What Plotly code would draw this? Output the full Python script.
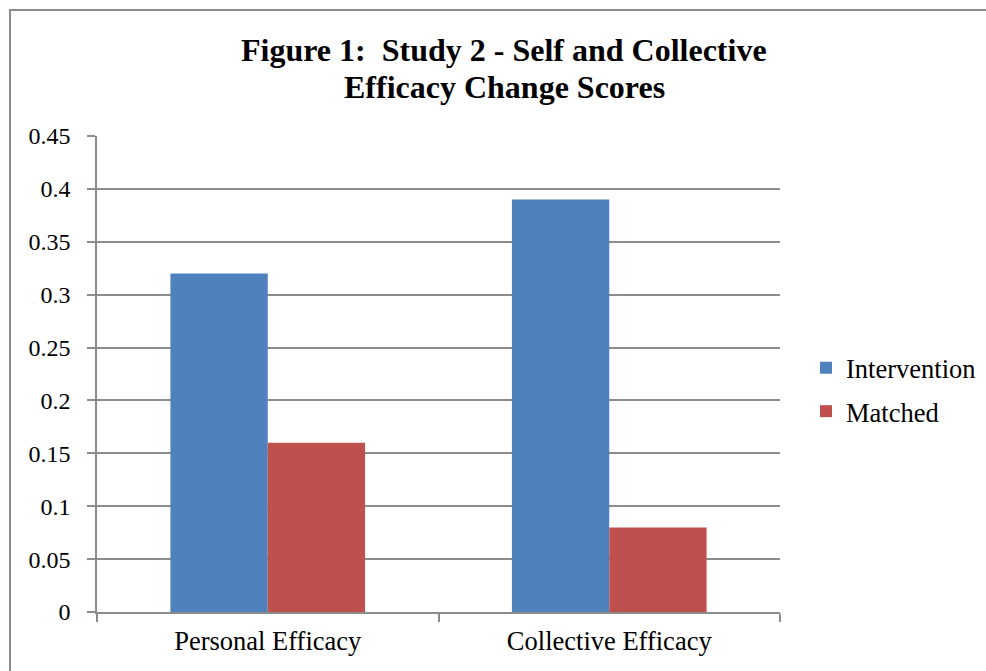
import plotly.graph_objects as go

categories = ["Personal Efficacy", "Collective Efficacy"]
intervention = [0.32, 0.39]
matched = [0.16, 0.08]
y_ticks = [0, 0.05, 0.1, 0.15, 0.2, 0.25, 0.3, 0.35, 0.4, 0.45]
y_tick_labels = ["0", "0.05", "0.1", "0.15", "0.2", "0.25", "0.3", "0.35", "0.4", "0.45"]
title_lines = ["Figure 1:  Study 2 - Self and Collective", "Efficacy Change Scores"]

W, H = 986, 671
L, R, T, B = 97, 206, 136, 59
pw, ph = W - L - R, H - T - B

FONT = "Liberation Serif, Times New Roman, serif"
GRID = "#8c8c8c"

fig = go.Figure()
fig.add_bar(x=categories, y=intervention, name="Intervention", legendgroup="a",
            marker=dict(color="#4f81bd", line=dict(width=0)))
fig.add_bar(x=categories, y=matched, name="Matched", legendgroup="b",
            marker=dict(color="#c0504d", line=dict(width=0)))

title_annos = [
    dict(text="<b>" + line + "</b>", xref="paper", yref="paper",
         x=(504 - L) / pw, xanchor="center", y=1 + (T - yc) / ph, yanchor="middle",
         showarrow=False, font=dict(family=FONT, size=32, color="black"))
    for line, yc in zip(title_lines, [50, 87])
]

fig.update_layout(
    width=W, height=H,
    margin=dict(l=L, r=R, t=T, b=B, autoexpand=False),
    paper_bgcolor="white", plot_bgcolor="white",
    barmode="group", bargap=0.43, bargroupgap=0,
    font=dict(family=FONT, color="black", size=24),
    legend=dict(
        x=(806 - L) / pw, xanchor="left", y=(H - B - 344) / ph, yanchor="top",
        font=dict(family=FONT, size=26.5, color="black"),
        bgcolor="rgba(0,0,0,0)", itemwidth=30, tracegroupgap=6,
    ),
    xaxis=dict(
        showline=True, linecolor=GRID, linewidth=1.5,
        ticks="outside", tickson="boundaries", ticklen=8, tickcolor=GRID, tickwidth=1.5,
        tickfont=dict(size=26.5, family=FONT), showgrid=False, ticklabelstandoff=4,
    ),
    yaxis=dict(
        range=[0, 0.45], tickvals=y_ticks, ticktext=y_tick_labels,
        showline=True, linecolor=GRID, linewidth=1.5,
        ticks="outside", ticklen=8, tickcolor=GRID, tickwidth=1.5,
        showgrid=True, gridcolor=GRID, gridwidth=1.5, zeroline=False,
        tickfont=dict(size=24, family=FONT), ticklabelstandoff=12,
    ),
    annotations=title_annos,
    shapes=[dict(
        type="rect", xref="paper", yref="paper", layer="below",
        x0=(10 - L) / pw, x1=(W + 20 - L) / pw,
        y0=-(B + 20) / ph, y1=1 + (T - 10) / ph,
        line=dict(color="#8c8c8c", width=2), fillcolor="rgba(0,0,0,0)",
    )],
)

fig.write_html("out.html")
